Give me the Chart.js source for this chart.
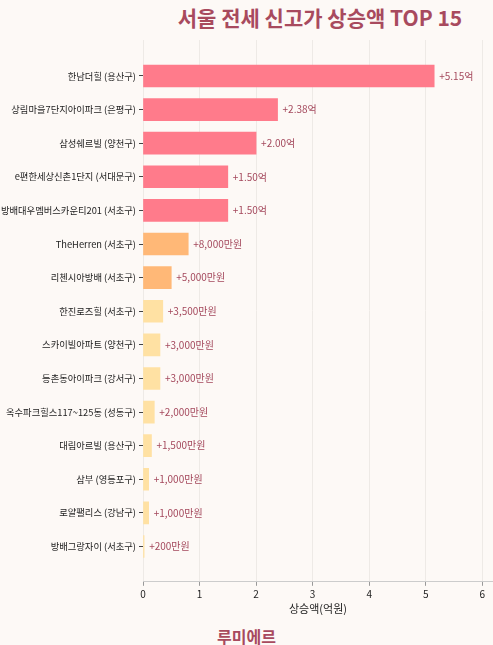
<!DOCTYPE html>
<html>
<head>
<meta charset="utf-8">
<script src="https://cdn.jsdelivr.net/npm/chart.js@4"></script>
<style>
  body { margin: 0; background: #fdf9f6; width: 493px; height: 645px; overflow: hidden; font-family: "Noto Sans CJK KR", "Noto Sans", sans-serif; }
  #title { position: absolute; top: 2px; left: 150px; width: 340px; text-align: center; font-size: 21px; font-weight: bold; color: #a84a5e; }
  #footer { position: absolute; top: 624px; left: 0; width: 493px; text-align: center; font-size: 16px; font-weight: bold; color: #a84a5e; }
  #wrap { position: absolute; top: 0; left: 0; width: 493px; height: 615px; }
</style>
</head>
<body>
<div id="title">서울 전세 신고가 상승액 TOP 15</div>
<div id="wrap"><canvas id="grafico"></canvas></div>
<div id="footer">루미에르</div>
<script>
const categorias = ['한남더힐 (용산구)', '상림마을7단지아이파크 (은평구)', '삼성쉐르빌 (양천구)', 'e편한세상신촌1단지 (서대문구)',
  '방배대우멤버스카운티201 (서초구)', 'TheHerren (서초구)', '리첸시아방배 (서초구)', '한진로즈힐 (서초구)',
  '스카이빌아파트 (양천구)', '등촌동아이파크 (강서구)', '옥수파크힐스117~125동 (성동구)', '대림아르빌 (용산구)',
  '삼부 (영등포구)', '로얄팰리스 (강남구)', '방배그랑자이 (서초구)'];
const valores = [5.15, 2.38, 2.00, 1.50, 1.50, 0.80, 0.50, 0.35, 0.30, 0.30, 0.20, 0.15, 0.10, 0.10, 0.02];
const ticksX = [0, 1, 2, 3, 4, 5, 6];

function colorBarra(v) {
  if (v >= 1) return '#ff7b8b';
  if (v >= 0.5) return '#ffb877';
  return '#ffe1a3';
}
function etiqueta(v) {
  if (v >= 1) return '+' + v.toFixed(2) + '억';
  return '+' + Math.round(v * 10000).toLocaleString('en-US') + '만원';
}

const etiquetasPlugin = {
  id: 'etiquetas',
  afterDatasetsDraw(chart) {
    const ctx = chart.ctx;
    const meta = chart.getDatasetMeta(0);
    ctx.save();
    ctx.font = '10px "Noto Sans CJK KR"';
    ctx.fillStyle = '#a4485c';
    ctx.textBaseline = 'middle';
    meta.data.forEach((bar, i) => {
      ctx.fillText(etiqueta(valores[i]), bar.x + 5, bar.y);
    });
    ctx.restore();
  }
};

new Chart(document.getElementById('grafico'), {
  type: 'bar',
  data: {
    datasets: [{
      data: valores.map((v, i) => ({ x: v, y: i })),
      backgroundColor: valores.map(colorBarra),
      barThickness: 22
    }]
  },
  options: {
    indexAxis: 'y',
    responsive: true,
    maintainAspectRatio: false,
    animation: false,
    layout: { padding: { top: 40, right: 0, left: 0 } },
    plugins: { legend: { display: false }, tooltip: { enabled: false } },
    scales: {
      x: {
        type: 'linear', min: 0, max: 6.19,
        afterBuildTicks: s => { s.ticks = ticksX.map(v => ({ value: v })); },
        grid: { color: '#eeeae6', tickLength: 4, tickColor: '#999' },
        border: { color: '#ccc' },
        ticks: { color: '#222', font: { size: 10, family: 'Noto Sans CJK KR' }, padding: 2 },
        title: { display: true, text: '상승액(억원)', color: '#222', font: { size: 11, family: 'Noto Sans CJK KR' }, padding: 0 }
      },
      y: {
        type: 'linear', reverse: true, min: -1.07, max: 15.05, offset: false,
        afterBuildTicks: s => { s.ticks = categorias.map((c, i) => ({ value: i })); },
        afterFit: s => { s.width = 143; },
        grid: { drawOnChartArea: false, offset: false, tickLength: 4, tickColor: '#444' },
        border: { display: false },
        ticks: { color: '#222', font: { size: 9.3, family: 'Noto Sans CJK KR' }, padding: 3, callback: v => categorias[v] }
      }
    }
  },
  plugins: [etiquetasPlugin]
});
</script>
</body>
</html>
